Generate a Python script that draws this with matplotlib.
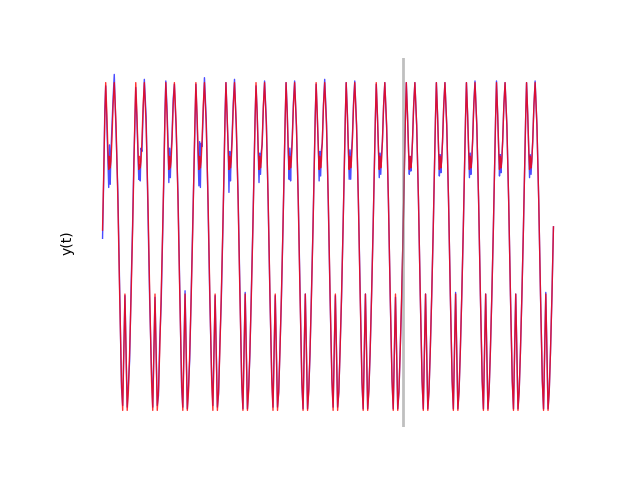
import matplotlib
matplotlib.use("Agg")
import matplotlib.pyplot as plt

# phase positions inside one cycle (cycle length 10)
phases = [0.0, 0.4, 0.75, 1.05, 1.45, 1.8, 2.05, 2.3, 2.55, 2.8, 3.1, 3.5,
          3.9, 4.5, 5.1, 5.7, 6.3, 6.7, 7.45, 8.2, 8.6, 9.0, 9.5]
cycle_len = 10
n_cycles = 15
t_split = 100

# target signal, one row per cycle
target = [
    [0.10, 0.46, 0.78, 1.00, 0.80, 0.58, 0.47, 0.55, 0.48, 0.52, 0.64, 0.86, 1.00, 0.74, 0.28, -0.30, -0.82, -1.00, -0.29, -1.00, -0.88, -0.65, -0.30],
    [0.10, 0.46, 0.78, 1.00, 0.80, 0.58, 0.47, 0.55, 0.48, 0.52, 0.64, 0.86, 1.00, 0.74, 0.28, -0.30, -0.82, -1.00, -0.29, -1.00, -0.88, -0.65, -0.30],
    [0.10, 0.46, 0.78, 1.00, 0.80, 0.58, 0.47, 0.55, 0.48, 0.52, 0.64, 0.86, 1.00, 0.74, 0.28, -0.30, -0.82, -1.00, -0.29, -1.00, -0.88, -0.65, -0.30],
    [0.10, 0.46, 0.78, 1.00, 0.80, 0.58, 0.47, 0.55, 0.48, 0.52, 0.64, 0.86, 1.00, 0.74, 0.28, -0.30, -0.82, -1.00, -0.29, -1.00, -0.88, -0.65, -0.30],
    [0.10, 0.46, 0.78, 1.00, 0.80, 0.58, 0.47, 0.55, 0.48, 0.52, 0.64, 0.86, 1.00, 0.74, 0.28, -0.30, -0.82, -1.00, -0.29, -1.00, -0.88, -0.65, -0.30],
    [0.10, 0.46, 0.78, 1.00, 0.80, 0.58, 0.47, 0.55, 0.48, 0.52, 0.64, 0.86, 1.00, 0.74, 0.28, -0.30, -0.82, -1.00, -0.29, -1.00, -0.88, -0.65, -0.30],
    [0.10, 0.46, 0.78, 1.00, 0.80, 0.58, 0.47, 0.55, 0.48, 0.52, 0.64, 0.86, 1.00, 0.74, 0.28, -0.30, -0.82, -1.00, -0.29, -1.00, -0.88, -0.65, -0.30],
    [0.10, 0.46, 0.78, 1.00, 0.80, 0.58, 0.47, 0.55, 0.48, 0.52, 0.64, 0.86, 1.00, 0.74, 0.28, -0.30, -0.82, -1.00, -0.29, -1.00, -0.88, -0.65, -0.30],
    [0.10, 0.46, 0.78, 1.00, 0.80, 0.58, 0.47, 0.55, 0.48, 0.52, 0.64, 0.86, 1.00, 0.74, 0.28, -0.30, -0.82, -1.00, -0.29, -1.00, -0.88, -0.65, -0.30],
    [0.10, 0.46, 0.78, 1.00, 0.80, 0.58, 0.47, 0.55, 0.48, 0.52, 0.64, 0.86, 1.00, 0.74, 0.28, -0.30, -0.82, -1.00, -0.29, -1.00, -0.88, -0.65, -0.30],
    [0.10, 0.46, 0.78, 1.00, 0.80, 0.58, 0.47, 0.55, 0.48, 0.52, 0.64, 0.86, 1.00, 0.74, 0.28, -0.30, -0.82, -1.00, -0.29, -1.00, -0.88, -0.65, -0.30],
    [0.10, 0.46, 0.78, 1.00, 0.80, 0.58, 0.47, 0.55, 0.48, 0.52, 0.64, 0.86, 1.00, 0.74, 0.28, -0.30, -0.82, -1.00, -0.29, -1.00, -0.88, -0.65, -0.30],
    [0.10, 0.46, 0.78, 1.00, 0.80, 0.58, 0.47, 0.55, 0.48, 0.52, 0.64, 0.86, 1.00, 0.74, 0.28, -0.30, -0.82, -1.00, -0.29, -1.00, -0.88, -0.65, -0.30],
    [0.10, 0.46, 0.78, 1.00, 0.80, 0.58, 0.47, 0.55, 0.48, 0.52, 0.64, 0.86, 1.00, 0.74, 0.28, -0.30, -0.82, -1.00, -0.29, -1.00, -0.88, -0.65, -0.30],
    [0.10, 0.46, 0.78, 1.00, 0.80, 0.58, 0.47, 0.55, 0.48, 0.52, 0.64, 0.86, 1.00, 0.74, 0.28, -0.30, -0.82, -1.00, -0.29, -1.00, -0.88, -0.65, -0.30],
]
target_end = 0.12

# model output, one row per cycle (noisy before t_split)
output = [
    [0.05, 0.42, 0.83, 0.98, 0.74, 0.52, 0.36, 0.62, 0.38, 0.58, 0.72, 0.90, 1.05, 0.70, 0.33, -0.25, -0.86, -0.97, -0.30, -0.98, -0.84, -0.70, -0.25],
    [0.13, 0.51, 0.74, 0.97, 0.76, 0.55, 0.41, 0.50, 0.40, 0.60, 0.58, 0.82, 1.02, 0.79, 0.23, -0.35, -0.77, -0.98, -0.31, -0.97, -0.91, -0.59, -0.35],
    [0.07, 0.42, 0.82, 1.01, 0.84, 0.63, 0.39, 0.60, 0.42, 0.57, 0.67, 0.90, 0.99, 0.71, 0.32, -0.26, -0.86, -0.98, -0.27, -0.99, -0.85, -0.69, -0.27],
    [0.14, 0.50, 0.75, 0.99, 0.77, 0.55, 0.37, 0.64, 0.36, 0.63, 0.61, 0.83, 1.03, 0.77, 0.25, -0.34, -0.79, -0.97, -0.30, -0.98, -0.90, -0.61, -0.33],
    [0.08, 0.44, 0.81, 1.00, 0.78, 0.61, 0.33, 0.58, 0.40, 0.55, 0.68, 0.88, 1.02, 0.72, 0.31, -0.28, -0.84, -0.99, -0.28, -0.99, -0.86, -0.67, -0.28],
    [0.12, 0.48, 0.79, 0.98, 0.81, 0.56, 0.39, 0.57, 0.44, 0.58, 0.62, 0.85, 1.01, 0.76, 0.26, -0.32, -0.80, -0.98, -0.30, -0.98, -0.89, -0.63, -0.32],
    [0.09, 0.45, 0.77, 1.00, 0.82, 0.56, 0.41, 0.60, 0.40, 0.56, 0.66, 0.88, 1.01, 0.73, 0.30, -0.27, -0.84, -0.99, -0.29, -0.99, -0.87, -0.67, -0.28],
    [0.11, 0.48, 0.80, 0.99, 0.78, 0.60, 0.40, 0.58, 0.43, 0.59, 0.63, 0.87, 1.02, 0.76, 0.26, -0.32, -0.81, -0.98, -0.30, -0.98, -0.89, -0.63, -0.32],
    [0.10, 0.45, 0.78, 1.00, 0.81, 0.57, 0.41, 0.59, 0.41, 0.57, 0.66, 0.88, 1.01, 0.74, 0.29, -0.28, -0.83, -0.99, -0.29, -0.99, -0.87, -0.66, -0.29],
    [0.11, 0.47, 0.77, 0.99, 0.79, 0.59, 0.42, 0.57, 0.44, 0.56, 0.64, 0.86, 1.00, 0.73, 0.28, -0.31, -0.81, -0.99, -0.31, -0.99, -0.89, -0.64, -0.33],
    [0.12, 0.46, 0.78, 1.00, 0.80, 0.58, 0.44, 0.55, 0.46, 0.52, 0.64, 0.86, 1.00, 0.74, 0.28, -0.30, -0.82, -0.99, -0.29, -0.99, -0.88, -0.65, -0.30],
    [0.10, 0.46, 0.78, 1.00, 0.80, 0.58, 0.43, 0.56, 0.45, 0.53, 0.64, 0.86, 1.00, 0.74, 0.28, -0.30, -0.82, -0.99, -0.28, -0.99, -0.88, -0.65, -0.30],
    [0.10, 0.46, 0.78, 1.00, 0.80, 0.58, 0.42, 0.57, 0.44, 0.52, 0.64, 0.87, 1.01, 0.74, 0.28, -0.30, -0.82, -0.99, -0.29, -0.99, -0.88, -0.65, -0.30],
    [0.10, 0.46, 0.78, 1.01, 0.80, 0.58, 0.43, 0.56, 0.45, 0.53, 0.64, 0.86, 1.00, 0.74, 0.28, -0.30, -0.82, -0.99, -0.29, -0.99, -0.88, -0.65, -0.30],
    [0.10, 0.46, 0.78, 1.00, 0.80, 0.58, 0.42, 0.56, 0.44, 0.53, 0.64, 0.86, 1.01, 0.74, 0.28, -0.30, -0.82, -0.99, -0.28, -0.99, -0.88, -0.65, -0.30],
]
output_end = 0.12


def flatten(rows, last):
	vals = []
	for row in rows:
		vals.extend(row)
	vals.append(last)
	return vals


t = []
for c in range(n_cycles):
	for p in phases:
		t.append(c * cycle_len + p)
t.append(n_cycles * cycle_len)

y_true = flatten(target, target_end)
y_pred = flatten(output, output_end)

fig, ax = plt.subplots(figsize=(6.4, 4.8), dpi=100)
ax.plot(t, y_pred, 'b', alpha=0.7, lw=1)
ax.plot(t, y_true, 'r', alpha=0.8, lw=1)
ax.axvline(t_split, color='gray', alpha=0.5, lw=2)
ax.set_ylabel("y(t)")
ax.set_xticks([])
ax.set_yticks([])
for s in ax.spines.values():
	s.set_visible(False)

fig.savefig("out.png")
